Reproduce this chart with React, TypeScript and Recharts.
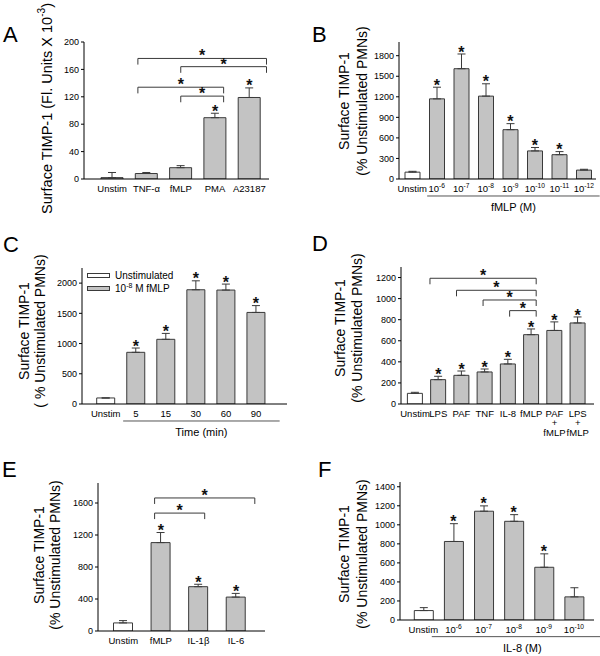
import React from 'react';
import {
  ComposedChart,
  Bar,
  XAxis,
  YAxis,
  ErrorBar,
  Cell,
  Scatter,
  ReferenceLine,
  Legend,
} from 'recharts';

const FONT = '"Liberation Sans", Arial, Helvetica, sans-serif';
const GREY = '#c3c3c3';
const EDGE = '#3a3a3a';
const YW = 30;
const XH = 20;
const TICK_FS = 9.5;

// Panel A
const aCats = ['Unstim', 'TNF-α', 'fMLP', 'PMA', 'A23187'];
const aVals = [2, 8, 16.5, 89.5, 119];
const aErrs = [7.5, 1.5, 3, 6.5, 14];
const aStars = [0, 0, 0, 1, 1];
const aTicks = [0, 40, 80, 120, 160, 200];
const aBrackets = [
  { from: 1, to: 4, y: 176 },
  { from: 2, to: 4, y: 164 },
  { from: 1, to: 3, y: 134 },
  { from: 2, to: 3, y: 121 },
];

// Panel B
const bCats = ['Unstim', '10^-6', '10^-7', '10^-8', '10^-9', '10^-10', '10^-11', '10^-12'];
const bVals = [100, 1170, 1610, 1210, 720, 410, 355, 130];
const bErrs = [12, 170, 215, 180, 88, 50, 45, 12];
const bStars = [0, 1, 1, 1, 1, 1, 1, 0];
const bTicks = [0, 300, 600, 900, 1200, 1500, 1800];

// Panel C
const cCats = ['Unstim', '5', '15', '30', '60', '90'];
const cVals = [100, 855, 1070, 1890, 1885, 1515];
const cErrs = [0, 71, 98, 148, 99, 113];
const cStars = [0, 1, 1, 1, 1, 1];
const cTicks = [0, 500, 1000, 1500, 2000];
const cLegend = ['Unstimulated', '10^-8 M fMLP'];

// Panel D
const dCats = ['Unstim', 'LPS', 'PAF', 'TNF', 'IL-8', 'fMLP', 'PAF\n+\nfMLP', 'LPS\n+\nfMLP'];
const dVals = [101, 231, 272, 304, 380, 658, 698, 769];
const dErrs = [10, 32, 41, 28, 44, 54, 81, 57];
const dStars = [0, 1, 1, 1, 1, 1, 1, 1];
const dTicks = [0, 200, 400, 600, 800, 1000, 1200];
const dBrackets = [
  { from: 1, to: 5, y: 1193 },
  { from: 2, to: 5, y: 1079 },
  { from: 3, to: 5, y: 987 },
  { from: 4, to: 5, y: 886 },
];

// Panel E
const eCats = ['Unstim', 'fMLP', 'IL-1β', 'IL-6'];
const eVals = [101, 1105, 554, 424];
const eErrs = [29, 126, 30, 46];
const eStars = [0, 1, 1, 1];
const eTicks = [0, 400, 800, 1200, 1600];
const eBrackets = [
  { from: 1, to: 3, y: 1663 },
  { from: 1, to: 2, y: 1474 },
];

// Panel F
const fCats = ['Unstim', '10^-6', '10^-7', '10^-8', '10^-9', '10^-10'];
const fVals = [99, 825, 1143, 1037, 554, 243];
const fErrs = [31, 187, 56, 70, 141, 96];
const fStars = [0, 1, 1, 1, 1, 0];
const fTicks = [0, 200, 400, 600, 800, 1000, 1200, 1400];

const PCT = '(% Unstimulated PMNs)';

function svgParts(s: string, size: number) {
  const parts = s.split(/(\^-?\d+)/).filter(Boolean);
  let raised = false;
  return parts.map((p, i) => {
    if (p.startsWith('^')) {
      raised = true;
      return (
        <tspan key={i} dy={-size * 0.4} fontSize={size * 0.7}>
          {p.slice(1)}
        </tspan>
      );
    }
    const dy = raised ? size * 0.4 : 0;
    raised = false;
    return (
      <tspan key={i} dy={dy}>
        {p}
      </tspan>
    );
  });
}

function htmlParts(s: string) {
  return s.split(/(\^-?\d+)/).filter(Boolean).map((p, i) =>
    p.startsWith('^') ? (
      <sup key={i} style={{ fontSize: 7 }}>{p.slice(1)}</sup>
    ) : (
      <span key={i}>{p}</span>
    )
  );
}

const CatTick = (p: any) => {
  const lines = String(p.payload.value).split('\n');
  return (
    <g>
      {lines.map((ln, i) => (
        <text
          key={i}
          x={p.x}
          y={p.y + 12.5 + i * 9.5}
          textAnchor="middle"
          fontSize={TICK_FS}
          fontFamily={FONT}
          fill="#000"
        >
          {svgParts(ln, TICK_FS)}
        </text>
      ))}
    </g>
  );
};

const StarDot = (p: any) => {
  if (!p.payload || p.payload.star == null || !isFinite(p.cy)) return <g />;
  return (
    <text x={p.cx} y={p.cy + 3.6} textAnchor="middle" fontSize={16} fontWeight="bold" fontFamily={FONT} fill="#111">
      *
    </text>
  );
};

function segBox(vb: any) {
  if (!vb) return { cx: 0, y: 0 };
  if (vb.x1 != null) return { cx: (vb.x1 + vb.x2) / 2, y: Math.min(vb.y1, vb.y2) };
  return { cx: vb.x + (vb.width || 0) / 2, y: vb.y };
}

const BracketStar = (p: any) => {
  const { cx, y } = segBox(p.viewBox);
  return (
    <text x={cx} y={y + 3} textAnchor="middle" fontSize={16} fontWeight="bold" fontFamily={FONT} fill="#111">
      *
    </text>
  );
};

const UnderLabel = (p: any) => {
  const { cx, y } = segBox(p.viewBox);
  return (
    <text x={cx} y={y + 15} textAnchor="middle" fontSize={11} fontFamily={FONT} fill="#000">
      {p.text}
    </text>
  );
};

const YTitle = (p: any) => (
  <g>
    {p.lines.map((ln: string, i: number) => (
      <text
        key={i}
        x={p.xs[i]}
        y={p.cy}
        transform={`rotate(-90 ${p.xs[i]} ${p.cy})`}
        textAnchor="middle"
        dominantBaseline="central"
        fontSize={p.size}
        fontFamily={FONT}
        fill="#000"
      >
        {svgParts(ln, p.size)}
      </text>
    ))}
  </g>
);

const CLegend = () => (
  <div style={{ fontFamily: FONT, fontSize: 10, color: '#000' }}>
    {cLegend.map((t, i) => (
      <div key={t} style={{ display: 'flex', alignItems: 'center', height: 13, whiteSpace: 'nowrap' }}>
        <span
          style={{
            display: 'inline-block',
            width: 21,
            height: 3,
            border: `1px solid ${EDGE}`,
            background: i === 0 ? '#fff' : GREY,
            marginRight: 5,
          }}
        />
        <span>{htmlParts(t)}</span>
      </div>
    ))}
  </div>
);

interface Geo {
  left: number; top: number; width: number; height: number;
  px: number; py: number; pw: number; ph: number;
  padL: number; padR: number; barSize: number;
}

interface PanelProps {
  geo: Geo;
  cats: string[];
  vals: number[];
  errs: number[];
  stars: number[];
  yMax: number;
  yTicks: number[];
  whiteFirst: boolean;
  brackets?: { from: number; to: number; y: number }[];
  drop?: number;
  underline?: { from: number; to: number; y: number; label: string };
  title: { lines: string[]; xs: number[]; cy: number; size: number };
  legend?: boolean;
}

function Panel(props: PanelProps) {
  const { geo, cats, vals, errs, stars, yMax, yTicks, whiteFirst, brackets = [], drop = 0, underline, title, legend } = props;
  const rows = cats.map((c, i) => ({
    cat: c,
    val: vals[i],
    err: [0, errs[i]],
    star: stars[i] ? vals[i] + errs[i] : null,
  }));
  const n = cats.length;
  const margin = {
    top: geo.py - geo.top,
    left: geo.px - geo.left - YW,
    right: geo.left + geo.width - geo.px - geo.pw,
    bottom: geo.top + geo.height - geo.py - geo.ph - XH,
  };
  const pad = { left: geo.padL, right: geo.padR };
  const line = { stroke: EDGE, strokeWidth: 1 };

  return (
    <div style={{ position: 'absolute', left: geo.left, top: geo.top }}>
      <ComposedChart width={geo.width} height={geo.height} data={rows} margin={margin}>
        <XAxis
          xAxisId="c"
          dataKey="cat"
          height={XH}
          interval={0}
          tickLine={false}
          tickSize={0}
          tickMargin={0}
          tick={<CatTick />}
          padding={pad}
          axisLine={{ stroke: '#000' }}
        />
        <XAxis
          xAxisId="n"
          type="number"
          orientation="top"
          height={0}
          domain={[-0.5, n - 0.5]}
          allowDataOverflow
          padding={pad}
          tick={false}
          tickLine={false}
          axisLine={{ stroke: '#000' }}
        />
        <YAxis
          yAxisId="v"
          width={YW}
          domain={[0, yMax]}
          allowDataOverflow
          ticks={yTicks}
          interval={0}
          tickSize={3}
          tickMargin={2}
          tick={{ fontSize: 9, fill: '#000', fontFamily: FONT }}
          tickLine={{ stroke: '#000' }}
          axisLine={{ stroke: '#000' }}
          label={
            <YTitle
              lines={title.lines}
              xs={title.xs.map((x) => x - geo.left)}
              cy={title.cy - geo.top}
              size={title.size}
            />
          }
        />
        <YAxis
          yAxisId="r"
          orientation="right"
          width={0}
          domain={[0, 1]}
          tick={false}
          tickLine={false}
          axisLine={{ stroke: '#000' }}
        />
        {legend && (
          <Legend
            layout="vertical"
            align="center"
            verticalAlign="middle"
            wrapperStyle={{ left: 87, top: 48.5, right: 'auto', bottom: 'auto', width: 'auto', height: 'auto' }}
            content={() => <CLegend />}
          />
        )}
        <Bar xAxisId="c" yAxisId="v" dataKey="val" barSize={geo.barSize} stroke={EDGE} strokeWidth={1} isAnimationActive={false}>
          {rows.map((r, i) => (
            <Cell key={r.cat} fill={whiteFirst && i === 0 ? '#fff' : GREY} />
          ))}
          <ErrorBar dataKey="err" width={4} stroke={EDGE} strokeWidth={1} direction="y" isAnimationActive={false} />
        </Bar>
        <Scatter xAxisId="c" yAxisId="v" dataKey="star" shape={<StarDot />} isAnimationActive={false} />
        {brackets.flatMap((b, i) => [
          <ReferenceLine
            key={`h${i}`}
            xAxisId="n"
            yAxisId="v"
            ifOverflow="visible"
            segment={[{ x: b.from, y: b.y }, { x: b.to, y: b.y }]}
            {...line}
            label={<BracketStar />}
          />,
          <ReferenceLine
            key={`l${i}`}
            xAxisId="n"
            yAxisId="v"
            ifOverflow="visible"
            segment={[{ x: b.from, y: b.y }, { x: b.from, y: b.y - drop }]}
            {...line}
          />,
          <ReferenceLine
            key={`r${i}`}
            xAxisId="n"
            yAxisId="v"
            ifOverflow="visible"
            segment={[{ x: b.to, y: b.y }, { x: b.to, y: b.y - drop }]}
            {...line}
          />,
        ])}
        {underline && (
          <ReferenceLine
            xAxisId="n"
            yAxisId="v"
            ifOverflow="visible"
            segment={[{ x: underline.from, y: underline.y }, { x: underline.to, y: underline.y }]}
            stroke="#555"
            strokeWidth={1}
            label={<UnderLabel text={underline.label} />}
          />
        )}
      </ComposedChart>
    </div>
  );
}

const letters = [
  { t: 'A', x: 3, y: 42 },
  { t: 'B', x: 312, y: 42 },
  { t: 'C', x: 3, y: 252 },
  { t: 'D', x: 312, y: 251 },
  { t: 'E', x: 2, y: 477 },
  { t: 'F', x: 318, y: 477 },
];

export default function App() {
  return (
    <div style={{ position: 'absolute', left: 0, top: 0, width: 600, height: 656, background: '#fff', fontFamily: FONT }}>
      <Panel
        geo={{ left: 0, top: 0, width: 300, height: 220, px: 84, py: 42, pw: 185, ph: 137, padL: 11, padR: 2.5, barSize: 22 }}
        cats={aCats}
        vals={aVals}
        errs={aErrs}
        stars={aStars}
        yMax={200}
        yTicks={aTicks}
        whiteFirst={false}
        brackets={aBrackets}
        drop={9}
        title={{ lines: ['Surface TIMP-1 (Fl. Units X 10^-3)'], xs: [47], cy: 108.5, size: 14.5 }}
      />
      <Panel
        geo={{ left: 300, top: 0, width: 300, height: 220, px: 399, py: 42, pw: 197, ph: 137, padL: 1, padR: 0, barSize: 15 }}
        cats={bCats}
        vals={bVals}
        errs={bErrs}
        stars={bStars}
        yMax={2000}
        yTicks={bTicks}
        whiteFirst
        underline={{ from: 0.97, to: 7.13, y: -248, label: 'fMLP (M)' }}
        title={{ lines: ['Surface TIMP-1', PCT], xs: [343.5, 361.5], cy: 101, size: 14 }}
      />
      <Panel
        geo={{ left: 0, top: 220, width: 300, height: 220, px: 82, py: 268, pw: 205, ph: 136, padL: 8.7, padR: 16, barSize: 18 }}
        cats={cCats}
        vals={cVals}
        errs={cErrs}
        stars={cStars}
        yMax={2250}
        yTicks={cTicks}
        whiteFirst
        legend
        underline={{ from: 0.9, to: 5.24, y: -281, label: 'Time (min)' }}
        title={{ lines: ['Surface TIMP-1', '( % Unstimulated PMNs)'], xs: [23.5, 40], cy: 331, size: 14 }}
      />
      <Panel
        geo={{ left: 300, top: 220, width: 300, height: 220, px: 401, py: 267, pw: 193, ph: 137, padL: 2.4, padR: 4.7, barSize: 15 }}
        cats={dCats}
        vals={dVals}
        errs={dErrs}
        stars={dStars}
        yMax={1300}
        yTicks={dTicks}
        whiteFirst
        brackets={dBrackets}
        drop={57}
        title={{ lines: ['Surface TIMP-1', PCT], xs: [340, 356.5], cy: 328, size: 14 }}
      />
      <Panel
        geo={{ left: 0, top: 440, width: 300, height: 216, px: 98, py: 483, pw: 167, ph: 148, padL: 6.5, padR: 10.2, barSize: 19 }}
        cats={eCats}
        vals={eVals}
        errs={eErrs}
        stars={eStars}
        yMax={1850}
        yTicks={eTicks}
        whiteFirst
        brackets={eBrackets}
        drop={75}
        title={{ lines: ['Surface TIMP-1', PCT], xs: [38.5, 55], cy: 555, size: 14 }}
      />
      <Panel
        geo={{ left: 300, top: 440, width: 300, height: 216, px: 400, py: 482, pw: 194, ph: 138, padL: 8.3, padR: 5, barSize: 19 }}
        cats={fCats}
        vals={fVals}
        errs={fErrs}
        stars={fStars}
        yMax={1450}
        yTicks={fTicks}
        whiteFirst
        underline={{ from: 0.65, to: 5.66, y: -175, label: 'IL-8 (M)' }}
        title={{ lines: ['Surface TIMP-1', PCT], xs: [344, 361.5], cy: 554, size: 14 }}
      />
      <svg width={600} height={656} style={{ position: 'absolute', left: 0, top: 0, pointerEvents: 'none' }}>
        {letters.map((l) => (
          <text key={l.t} x={l.x} y={l.y} fontSize={22} fontFamily={FONT} fill="#000">
            {l.t}
          </text>
        ))}
      </svg>
    </div>
  );
}
